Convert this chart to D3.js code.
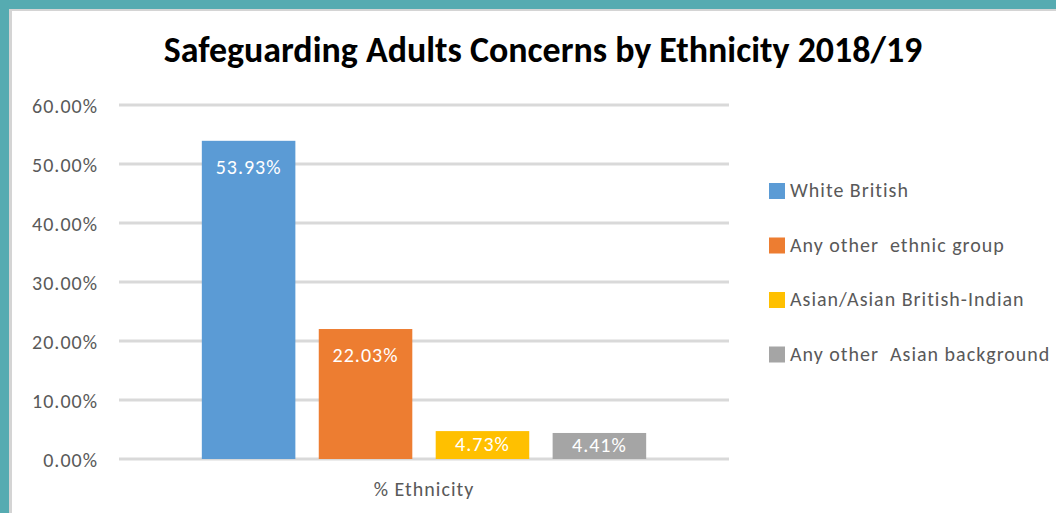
<!DOCTYPE html>
<html>
<head>
<meta charset="utf-8">
<script src="https://cdn.jsdelivr.net/npm/d3@7"></script>
<style>
  html, body { margin: 0; padding: 0; background: #56abb1; }
  svg { display: block; }
  text { font-family: Carlito, Calibri, Lato, sans-serif; }
</style>
</head>
<body>
<div class="chart"></div>
<script>
// Chart data
var title = "Safeguarding Adults Concerns by Ethnicity 2018/19";
var category = "% Ethnicity";
var series = ["White British", "Any other  ethnic group", "Asian/Asian British-Indian", "Any other  Asian background"];
var values = [53.93, 22.03, 4.73, 4.41];
var colors = ["#5b9bd5", "#ed7d31", "#ffc000", "#a5a5a5"];
var yTicks = [0, 10, 20, 30, 40, 50, 60];

var width = 1056, height = 513;

var svg = d3.select(".chart").append("svg")
  .attr("width", width)
  .attr("height", height);

// frame: teal edge, thin grey line, white panel
svg.append("rect").attr("x", 0).attr("y", 0).attr("width", width).attr("height", height).attr("fill", "#56abb1");
svg.append("rect").attr("x", 9).attr("y", 9).attr("width", width - 9).attr("height", height - 9).attr("fill", "#d4d4d4");
svg.append("rect").attr("x", 12).attr("y", 11).attr("width", width - 12).attr("height", height - 11).attr("fill", "#ffffff");

// scales
var y = d3.scaleLinear().domain([0, 60]).range([459, 105]);
var x0 = d3.scaleBand().domain([category]).range([119, 729]).padding(0.132);
var x1 = d3.scaleBand().domain(series).range([0, x0.bandwidth()]).paddingInner(0.2).paddingOuter(0.1);

// title
var t = svg.append("text")
  .attr("x", 543)
  .attr("y", 62)
  .attr("text-anchor", "middle")
  .attr("font-weight", "bold")
  .attr("font-size", "30px")
  .attr("fill", "#000")
  .text(title);
var tw = t.node().getComputedTextLength();
t.attr("font-size", (30 * 759 / tw) + "px");

// gridlines
svg.append("g").selectAll("line")
  .data(yTicks)
  .enter()
  .append("line")
  .attr("x1", 119)
  .attr("x2", 729)
  .attr("y1", function(d) { return y(d); })
  .attr("y2", function(d) { return y(d); })
  .attr("stroke", "#d9d9d9")
  .attr("stroke-width", 3);

// y axis labels
var yAxis = d3.axisLeft(y)
  .tickValues(yTicks)
  .tickSize(0)
  .tickPadding(0)
  .tickFormat(function(d) { return d.toFixed(2) + "%"; });

var yg = svg.append("g")
  .attr("transform", "translate(98,0)")
  .call(yAxis);
yg.select(".domain").remove();
yg.selectAll("text")
  .attr("font-family", "Carlito, Calibri, Lato, sans-serif")
  .attr("font-size", "20px")
  .attr("letter-spacing", "1px")
  .attr("fill", "#595959")
  .attr("dy", "0.35em");

// bars
var g = svg.append("g").attr("transform", "translate(" + x0(category) + ",0)");
g.selectAll("rect")
  .data(values)
  .enter()
  .append("rect")
  .attr("x", function(d, i) { return x1(series[i]); })
  .attr("y", function(d) { return y(d); })
  .attr("width", x1.bandwidth())
  .attr("height", function(d) { return y(0) - y(d); })
  .attr("fill", function(d, i) { return colors[i]; });

// data labels
g.selectAll("text.lbl")
  .data(values)
  .enter()
  .append("text")
  .attr("class", "lbl")
  .attr("x", function(d, i) { return x1(series[i]) + x1.bandwidth() / 2; })
  .attr("y", function(d) {
    var h = y(0) - y(d);
    return h > 50 ? y(d) + 33 : y(d) + h * 0.72;
  })
  .attr("text-anchor", "middle")
  .attr("font-size", "20px")
  .attr("letter-spacing", "1px")
  .attr("fill", "#ffffff")
  .text(function(d) { return d.toFixed(2) + "%"; });

// category label
svg.append("text")
  .attr("x", x0(category) + x0.bandwidth() / 2)
  .attr("y", 496)
  .attr("text-anchor", "middle")
  .attr("font-size", "20px")
  .attr("letter-spacing", "1px")
  .attr("fill", "#595959")
  .text(category);

// legend
var leg = svg.append("g").selectAll("g")
  .data(series)
  .enter()
  .append("g")
  .attr("transform", function(d, i) { return "translate(769," + (183 + i * 54.5) + ")"; });

leg.append("rect")
  .attr("width", 16)
  .attr("height", 16)
  .attr("fill", function(d, i) { return colors[i]; });

leg.append("text")
  .attr("x", 21)
  .attr("y", 14)
  .attr("font-size", "20px")
  .attr("letter-spacing", "1px")
  .attr("fill", "#595959")
  .attr("xml:space", "preserve")
  .style("white-space", "pre")
  .text(function(d) { return d; });
</script>
</body>
</html>
